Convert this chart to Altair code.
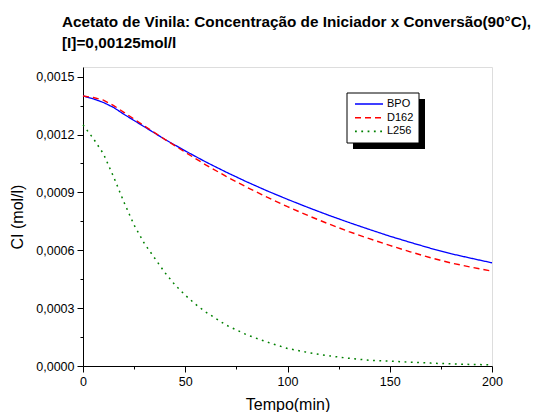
import altair as alt
import pandas as pd

# ---- data ----
series_names = ["BPO", "D162", "L256"]
series_colors = ["#0000ff", "#ff0000", "#008000"]

t_bpo = [0, 5, 10, 15, 20, 30, 40, 50, 60, 70, 80, 90, 100, 110, 120, 130, 140, 150, 160, 170, 180, 190, 200]
ci_bpo = [0.00140, 0.001385, 0.001366, 0.00134, 0.001305, 0.001240, 0.001175, 0.001115, 0.001058, 0.001005,
          0.000955, 0.000908, 0.000864, 0.000822, 0.000782, 0.000744, 0.000708, 0.000673, 0.000641, 0.000610,
          0.000582, 0.000558, 0.000535]

t_d162 = [0, 5, 10, 15, 20, 30, 40, 50, 60, 70, 80, 90, 100, 110, 120, 130, 140, 150, 160, 170, 180, 190, 200]
ci_d162 = [0.00140, 0.001392, 0.001378, 0.00135, 0.001315, 0.001245, 0.001175, 0.001108, 0.001043, 0.000983,
           0.000927, 0.000875, 0.000826, 0.000780, 0.000737, 0.000697, 0.000660, 0.000625, 0.000592, 0.000561,
           0.000534, 0.000512, 0.000492]

t_l256 = [0, 5, 10, 15, 20, 25, 30, 35, 40, 45, 50, 55, 60, 70, 80, 90, 100, 110, 120, 130, 140, 150, 160,
          170, 180, 190, 200]
ci_l256 = [0.00125, 0.00118, 0.00110, 0.00098, 0.00085, 0.00073, 0.000635, 0.00056, 0.000485, 0.00042, 0.000367,
           0.00032, 0.00028, 0.000212, 0.000162, 0.000124, 0.000091, 0.00007, 0.000053, 0.00004, 0.00003,
           0.000025, 0.00002, 0.000015, 0.000011, 0.000008, 0.000006]

x_ticks = [0, 25, 50, 75, 100, 125, 150, 175, 200]
y_ticks = [0.0, 0.00015, 0.0003, 0.00045, 0.0006, 0.00075, 0.0009, 0.00105, 0.0012, 0.00135, 0.0015]

title_lines = ["Acetato de Vinila: Concentração de Iniciador x Conversão(90°C),", "[I]=0,00125mol/l"]

rows = []
for name, ts, vs in [("BPO", t_bpo, ci_bpo), ("D162", t_d162, ci_d162), ("L256", t_l256, ci_l256)]:
    for t, v in zip(ts, vs):
        rows.append({"t": t, "ci": v, "serie": name})
df = pd.DataFrame(rows)

FONT = "Liberation Sans"

x_axis = alt.Axis(
    values=x_ticks, title="Tempo(min)", grid=False, labelFlush=False,
    labelExpr="datum.value % 50 == 0 ? datum.label : ''",
    tickSize={"condition": {"test": "datum.value % 50 != 0", "value": 3}, "value": 6},
    labelFontSize=12.5, titleFontSize=16, titleFontWeight="normal",
    labelPadding=3, titlePadding=9, domainColor="black", tickColor="black",
    labelColor="black", titleColor="black", labelFont=FONT, titleFont=FONT,
)
y_axis = alt.Axis(
    values=y_ticks, title="CI (mol/l)", grid=False, labelFlush=False,
    labelExpr="round(datum.value / 0.00015) % 2 == 1 ? '' : replace(format(datum.value, '.4f'), '.', ',')",
    tickSize={"condition": {"test": "round(datum.value / 0.00015) % 2 == 1", "value": 3}, "value": 6},
    labelFontSize=12.5, titleFontSize=16, titleFontWeight="normal",
    labelPadding=3, titlePadding=10, domainColor="black", tickColor="black",
    labelColor="black", titleColor="black", labelFont=FONT, titleFont=FONT,
)

dashes = [[1, 0], [6, 4], [1.8, 4.5]]
widths = [1.3, 1.5, 1.8]

lines = alt.Chart(df).mark_line().encode(
    x=alt.X("t:Q", scale=alt.Scale(domain=[0, 200], nice=False, zero=False), axis=x_axis),
    y=alt.Y("ci:Q", scale=alt.Scale(domain=[0, 0.00155], nice=False), axis=y_axis),
    color=alt.Color("serie:N", scale=alt.Scale(domain=series_names, range=series_colors), legend=None),
    strokeDash=alt.StrokeDash("serie:N", scale=alt.Scale(domain=series_names, range=dashes), legend=None),
    strokeWidth=alt.StrokeWidth("serie:N", scale=alt.Scale(domain=series_names, range=widths), legend=None),
)

# ---- hand-made legend box with shadow (pixel layout, not data) ----
one = pd.DataFrame({"k": [0]})
lx0, ly0, lw, lh = 264, 26, 72, 50
shadow = alt.Chart(one).mark_rect(color="black").encode(
    x=alt.value(lx0 + 6), x2=alt.value(lx0 + lw + 6), y=alt.value(ly0 + 6), y2=alt.value(ly0 + lh + 6))
box = alt.Chart(one).mark_rect(fill="white", stroke="black", strokeWidth=1).encode(
    x=alt.value(lx0), x2=alt.value(lx0 + lw), y=alt.value(ly0), y2=alt.value(ly0 + lh))
legend_layers = [shadow, box]
for i, name in enumerate(series_names):
    yy = ly0 + 11 + i * 13.7
    legend_layers.append(alt.Chart(one).mark_rule(color=series_colors[i], strokeDash=dashes[i],
                                                  strokeWidth=widths[i]).encode(
        x=alt.value(lx0 + 8), x2=alt.value(lx0 + 36), y=alt.value(yy)))
    legend_layers.append(alt.Chart(pd.DataFrame({"label": [name]})).mark_text(
        align="left", baseline="middle", font=FONT, fontSize=11, color="black").encode(
        x=alt.value(lx0 + 40), y=alt.value(yy), text="label:N"))

chart = alt.layer(lines, *legend_layers).properties(
    width=409, height=299,
    padding={"left": 75, "top": 59, "right": 46, "bottom": 46},
    autosize=alt.AutoSizeParams(type="none"),
    title=alt.Title(title_lines, anchor="start", frame="group", dx=-21, fontSize=15.3, font=FONT,
                    fontWeight="bold", lineHeight=21, offset=16, color="black"),
).configure_view(stroke="black", strokeWidth=1.2).configure(background="white")

chart.save("out.html", embed_options={"renderer": "svg", "actions": False})
